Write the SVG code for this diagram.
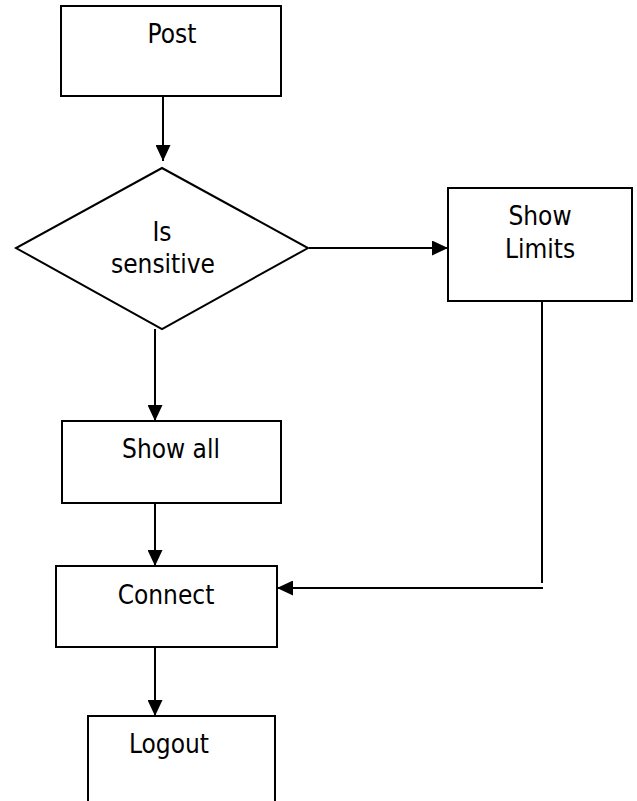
<svg xmlns="http://www.w3.org/2000/svg" width="637" height="801" viewBox="0 0 637 801">
<style>
.box{fill:#fff;stroke:#000;stroke-width:2}
.lbl{font-family:"DejaVu Sans Condensed","DejaVu Sans",sans-serif;font-stretch:condensed;font-size:26px;fill:#000;text-anchor:middle}
.con{fill:none;stroke:#000;stroke-width:2}
</style>
<defs>
<marker id="arr" markerUnits="userSpaceOnUse" markerWidth="16" markerHeight="15" refX="16" refY="7.5" orient="auto">
<path d="M0,0 L16,7.5 L0,15 z" fill="#000"/>
</marker>
</defs>
<rect width="637" height="801" fill="#fff"/>
<g id="connectors">
<line class="con" x1="163" y1="96" x2="163" y2="161" marker-end="url(#arr)"/>
<line class="con" x1="309" y1="248" x2="448" y2="248" marker-end="url(#arr)"/>
<line class="con" x1="155" y1="329" x2="155" y2="421" marker-end="url(#arr)"/>
<line class="con" x1="155" y1="503" x2="155" y2="566" marker-end="url(#arr)"/>
<line class="con" x1="155" y1="647" x2="155" y2="716" marker-end="url(#arr)"/>
<line class="con" x1="542" y1="301" x2="542" y2="583" stroke-width="1.6"/>
<line class="con" x1="543" y1="588" x2="277" y2="588" marker-end="url(#arr)"/>
</g>
<g id="post">
<rect class="box" x="61" y="6" width="220" height="90"/>
<text class="lbl" x="172" y="43">Post</text>
</g>
<g id="is-sensitive">
<polygon class="box" points="162,168 308,248 162,329 16,248"/>
<text class="lbl" x="162" y="241">Is</text>
<text class="lbl" x="163" y="273">sensitive</text>
</g>
<g id="show-limits">
<rect class="box" x="448" y="188" width="184" height="113"/>
<text class="lbl" x="540" y="225">Show</text>
<text class="lbl" x="540" y="258">Limits</text>
</g>
<g id="show-all">
<rect class="box" x="62" y="421" width="219" height="82"/>
<text class="lbl" x="171" y="458">Show all</text>
</g>
<g id="connect">
<rect class="box" x="56" y="566" width="221" height="81"/>
<text class="lbl" x="166" y="604">Connect</text>
</g>
<g id="logout">
<rect class="box" x="88" y="716" width="187" height="100"/>
<text class="lbl" x="169" y="753">Logout</text>
</g>
</svg>
